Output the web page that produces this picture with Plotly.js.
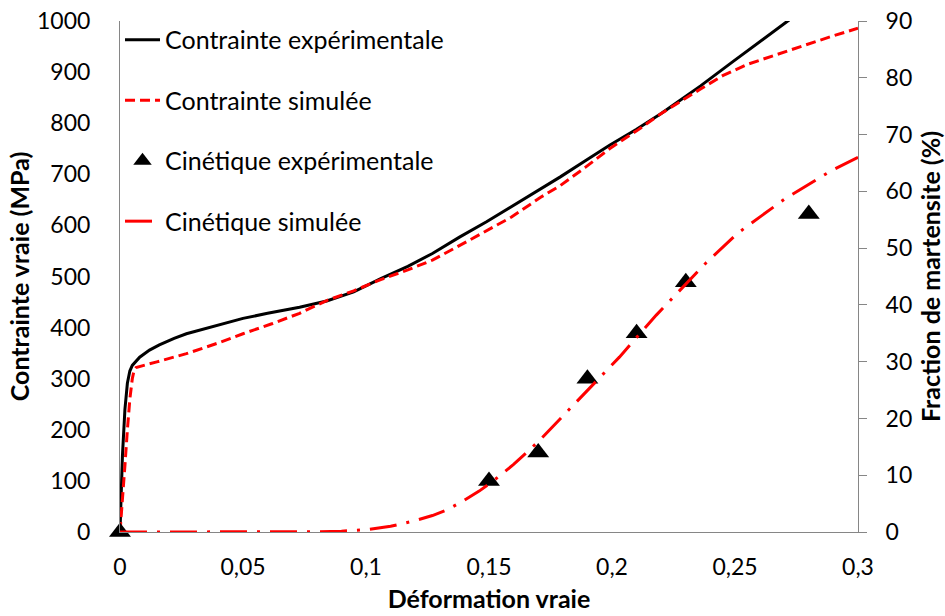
<!DOCTYPE html>
<html>
<head>
<meta charset="utf-8">
<script src="https://cdn.plot.ly/plotly-3.0.1.min.js"></script>
<style>html,body{margin:0;padding:0;background:#fff;}#chart{width:945px;height:616px;}</style>
</head>
<body>
<div id="chart"></div>
<script>
// Contrainte expérimentale (MPa)
const expStrain = [0, 0.0005, 0.001, 0.002, 0.003, 0.004, 0.005, 0.008, 0.012, 0.016, 0.022, 0.027, 0.033, 0.04, 0.05, 0.06, 0.073, 0.084, 0.095, 0.106, 0.117, 0.127, 0.138, 0.149, 0.159, 0.171, 0.179, 0.189, 0.199, 0.21, 0.22, 0.228, 0.236, 0.249, 0.26, 0.272];
const expStress = [0, 80, 150, 240, 291, 315, 326, 342, 356, 366, 379, 388, 396, 406, 418, 428, 440, 452, 470, 496, 520, 545, 577, 607, 636, 672, 695, 726, 757, 788, 819, 846, 873, 920, 960, 1002];
// Contrainte simulée (MPa)
const simStrain = [0, 0.001, 0.002, 0.003, 0.004, 0.005, 0.0058, 0.0065, 0.01, 0.015, 0.027, 0.04, 0.05, 0.062, 0.073, 0.084, 0.095, 0.106, 0.117, 0.127, 0.142, 0.159, 0.171, 0.179, 0.189, 0.199, 0.21, 0.22, 0.236, 0.245, 0.255, 0.266, 0.276, 0.288, 0.3];
const simStress = [0, 60, 130, 200, 260, 300, 318, 322, 326, 333, 349, 370, 388, 408, 428, 453, 472, 494, 513, 532, 571, 616, 655, 678, 713, 750, 785, 819, 867, 893, 915, 933, 949, 968, 986];
// Cinétique expérimentale (% martensite)
const kinExpStrain = [0, 0.15, 0.17, 0.19, 0.21, 0.23, 0.28];
const kinExpFrac = [0, 9, 14, 27, 35, 44, 56];
// Cinétique simulée (% martensite)
const kinSimStrain = [0, 0.02, 0.04, 0.06, 0.08, 0.09, 0.1, 0.11, 0.12, 0.127, 0.133, 0.14, 0.146, 0.152, 0.16, 0.17, 0.186, 0.203, 0.218, 0.238, 0.251, 0.27, 0.289, 0.3];
const kinSimFrac = [0, 0, 0, 0, 0.05, 0.15, 0.4, 1.0, 2.0, 2.9, 3.9, 5.6, 7.2, 9.1, 11.9, 15.9, 23.2, 30.8, 38.2, 47.3, 52.6, 58.6, 63.6, 66];

const seriesNames = ['Contrainte expérimentale', 'Contrainte simulée', 'Cinétique expérimentale', 'Cinétique simulée'];
const xTitle = 'Déformation vraie';
const yTitle = 'Contrainte vraie (MPa)';
const y2Title = 'Fraction de martensite (%)';

const FONT = 'Lato, "Open Sans", sans-serif';
const AXCOL = '#868686';

const traces = [
  {x: expStrain, y: expStress, name: seriesNames[0], mode: 'lines', legendgroup: 'a',
   line: {color: '#000000', width: 3}, yaxis: 'y'},
  {x: simStrain, y: simStress, name: seriesNames[1], mode: 'lines', legendgroup: 'b',
   line: {color: '#FF0000', width: 3, dash: '10px,5px'}, yaxis: 'y'},
  {x: kinExpStrain, y: kinExpFrac, name: seriesNames[2], mode: 'markers', legendgroup: 'c',
   marker: {symbol: 'triangle-up', size: 19, color: '#000000'}, yaxis: 'y2', cliponaxis: false},
  {x: kinSimStrain, y: kinSimFrac, name: seriesNames[3], mode: 'lines', legendgroup: 'd',
   line: {color: '#FF0000', width: 3, dash: '27px,10px,3px,10px'}, yaxis: 'y2'}
];

const layout = {
  width: 945, height: 616,
  margin: {l: 120, r: 87, t: 21, b: 84, pad: 0},
  paper_bgcolor: '#ffffff', plot_bgcolor: '#ffffff',
  separators: ', ',
  font: {family: FONT, size: 23, color: '#000000'},
  showlegend: true,
  legend: {x: 0, y: 1.008, xanchor: 'left', yanchor: 'top', bgcolor: 'rgba(0,0,0,0)',
           traceorder: 'grouped', tracegroupgap: 25, itemwidth: 35,
           font: {family: FONT, size: 25, color: '#000'}},
  xaxis: {range: [0, 0.3], dtick: 0.05, tick0: 0, showgrid: false, zeroline: false,
          showline: true, linecolor: AXCOL, linewidth: 1, ticks: '', ticklabelstandoff: 14,
          tickfont: {family: FONT, size: 23},
          title: {text: xTitle, font: {family: FONT, size: 25, weight: 'bold'}, standoff: 11}},
  yaxis: {range: [0, 1000], dtick: 100, tick0: 0, showgrid: false, zeroline: false,
          showline: true, linecolor: AXCOL, linewidth: 1, ticks: '', ticklabelstandoff: 24,
          tickfont: {family: FONT, size: 23},
          title: {text: yTitle, font: {family: FONT, size: 25, weight: 'bold'}, standoff: 0}},
  yaxis2: {range: [0, 90], dtick: 10, tick0: 0, overlaying: 'y', side: 'right', showgrid: false,
          zeroline: false, showline: true, linecolor: AXCOL, linewidth: 1,
          ticks: 'outside', ticklen: 8, tickcolor: AXCOL, tickwidth: 1, ticklabelstandoff: 14,
          tickfont: {family: FONT, size: 23},
          title: {text: y2Title, font: {family: FONT, size: 25, weight: 'bold'}, standoff: 11}}
};

Plotly.newPlot('chart', traces, layout, {displayModeBar: false, staticPlot: true});
</script>
</body>
</html>
